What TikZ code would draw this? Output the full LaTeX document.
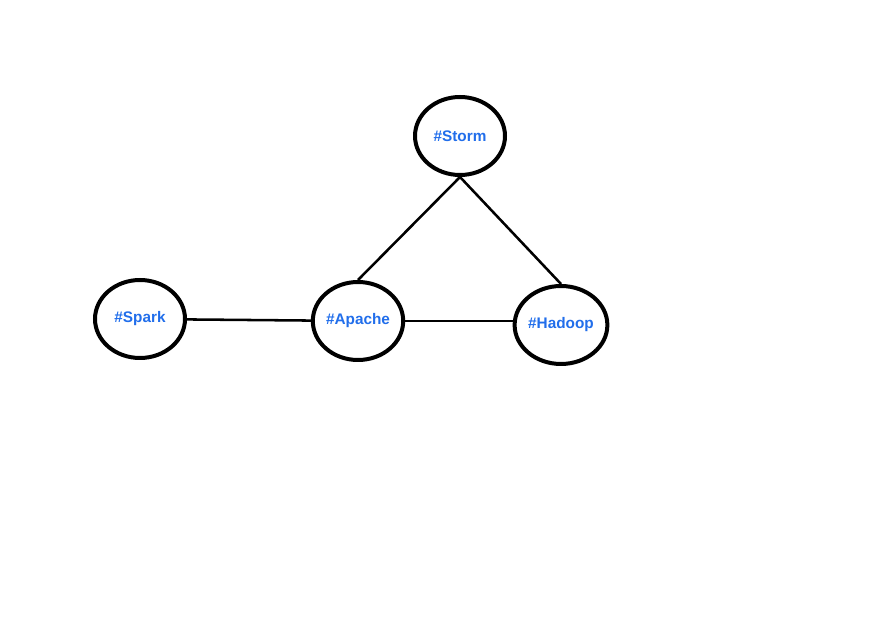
\documentclass[tikz,border=0pt]{standalone}
\usepackage{fontspec}
\setmainfont{Liberation Sans}
\usepackage{tikz}
\usetikzlibrary{shapes.geometric}
\definecolor{tagblue}{RGB}{33,110,235}

\begin{document}
\begin{tikzpicture}[x=0.75pt,y=0.75pt,
    tag/.style={ellipse, draw=black, line width=3pt, fill=white,
        minimum width=67.5pt, minimum height=58.5pt, inner sep=0pt,
        text=tagblue, font=\fontsize{11.5}{14}\selectfont\bfseries},
    link/.style={line width=1.9pt}]
    \useasboundingbox (0,0) rectangle (889,643);
    \node[tag] (storm) at (460,507) {\#Storm};
    \node[tag] (spark) at (140,324) {\#Spark};
    \node[tag] (apache) at (358,322) {\#Apache};
    \node[tag] (hadoop) at (561,318) {\#Hadoop};
    \draw[link] (storm.south)--(apache.north);
    \draw[link] (storm.south)--(hadoop.north);
    \draw[link] (spark)--(apache);
    \draw[link] (apache.east)--(apache.east -| hadoop.west);
\end{tikzpicture}
\end{document}
